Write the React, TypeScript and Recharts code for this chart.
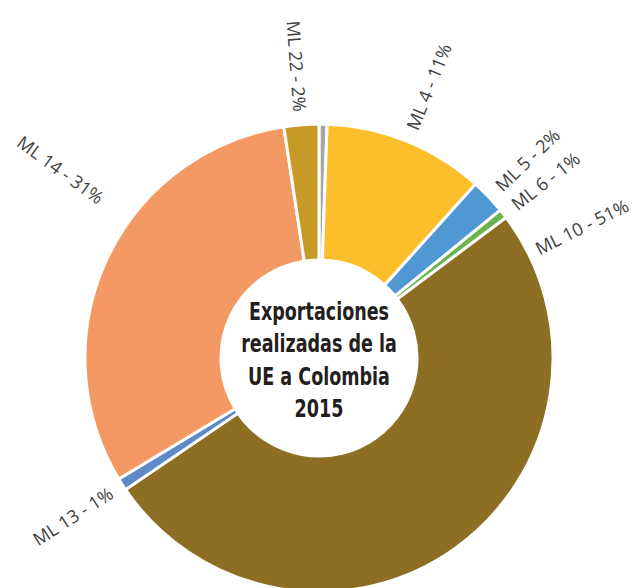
import React from 'react';
import { PieChart, Pie, Cell } from 'recharts';

const names = ['Otros', 'ML 4', 'ML 5', 'ML 6', 'ML 10', 'ML 13', 'ML 14', 'ML 22'];
const shares = [0.55, 11.1, 2.44, 0.64, 50.67, 0.86, 31.2, 2.4];
const colors = ['#A6A6A6', '#FDBE2C', '#4F98D3', '#6BB44C', '#8D6E23', '#5E8BC8', '#F49864', '#C79A28'];
const titleLines = ['Exportaciones', 'realizadas de la', 'UE a Colombia', '2015'];

const data = names.map((name, i) => ({ name, value: shares[i] }));

const CX = 319;
const CY = 358;
const MARGIN = 5;

// a couple of labels sit away from the slice middle in the original
const labelNudge: Record<string, { da: number; dr: number }> = {
  'ML 10': { da: 81, dr: -4 },
  'ML 14': { da: -11, dr: 22 },
};

const RAD = Math.PI / 180;

const renderLabel = (props: any) => {
  const { cx, cy, outerRadius, midAngle, name, percent } = props;
  if (name === 'Otros') return null;
  const nudge = labelNudge[name] || { da: 0, dr: 0 };
  const a = midAngle + nudge.da;
  const r = outerRadius + 13 + nudge.dr;
  const x = cx + r * Math.cos(a * RAD);
  const y = cy - r * Math.sin(a * RAD);
  const right = Math.cos(a * RAD) >= 0;
  const rot = right ? -a : 180 - a;
  return (
    <text
      x={x}
      y={y}
      transform={`rotate(${rot}, ${x}, ${y})`}
      textAnchor={right ? 'start' : 'end'}
      dominantBaseline="central"
      fill="#404040"
      fontSize={18}
      fontFamily="'Open Sans', Lato, sans-serif"
    >
      {`${name} - ${Math.round(percent * 100)}%`}
    </text>
  );
};

export default function App() {
  return (
    <div style={{ position: 'absolute', left: 0, top: 0, width: 637, height: 588, background: '#fff' }}>
      <PieChart width={637} height={588} margin={{ top: MARGIN, right: MARGIN, bottom: MARGIN, left: MARGIN }}>
        <Pie
          data={data}
          dataKey="value"
          nameKey="name"
          cx={CX - MARGIN}
          cy={CY - MARGIN}
          innerRadius={98}
          outerRadius={234}
          startAngle={90}
          endAngle={-270}
          stroke="#ffffff"
          strokeWidth={3}
          label={renderLabel}
          labelLine={false}
          isAnimationActive={false}
        >
          {data.map((d, i) => (
            <Cell key={d.name} fill={colors[i]} />
          ))}
        </Pie>
      </PieChart>
      <svg
        width={637}
        height={588}
        style={{ position: 'absolute', left: 0, top: 0, pointerEvents: 'none' }}
      >
        <g transform={`translate(${CX},0) scale(0.78,1) translate(${-CX},0)`}>
          {titleLines.map((line, i) => (
            <text
              key={line}
              x={CX}
              y={CY - 38 + i * 32.5}
              textAnchor="middle"
              fill="#231F20"
              fontSize={25}
              fontWeight="bold"
              fontFamily="'DejaVu Sans Condensed', 'DejaVu Sans', sans-serif"
            >
              {line}
            </text>
          ))}
        </g>
      </svg>
    </div>
  );
}
